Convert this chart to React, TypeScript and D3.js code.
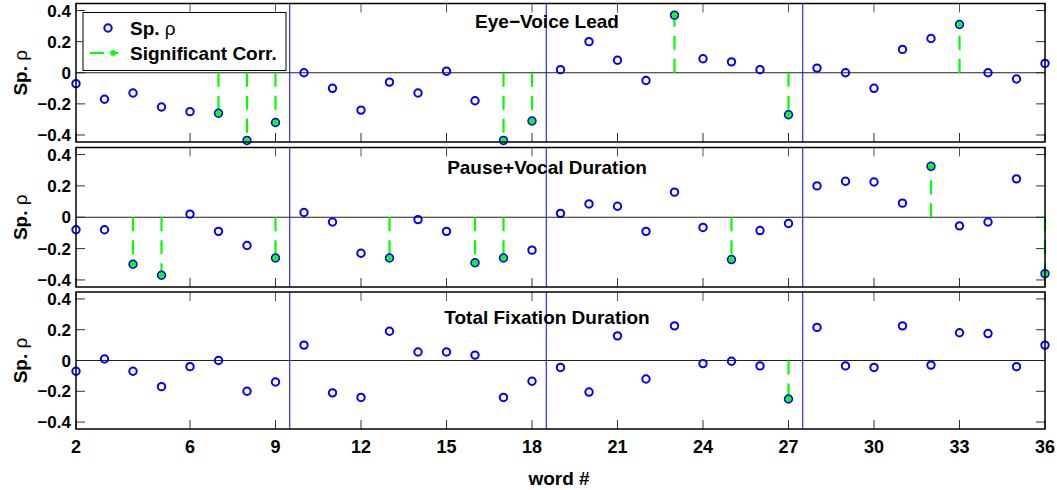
import React, { useEffect, useRef } from 'react';
import * as d3 from 'd3';

// word numbers on the x axis
const words = [2, 3, 4, 5, 6, 7, 8, 9, 10, 11, 12, 13, 14, 15, 16, 17, 18, 19, 20, 21, 22, 23, 24, 25, 26, 27, 28, 29, 30, 31, 32, 33, 34, 35, 36];

const eyeVoice = [-0.07, -0.17, -0.13, -0.22, -0.25, -0.26, -0.435, -0.32, 0.0, -0.1, -0.24, -0.06, -0.13, 0.01, -0.18, -0.435, -0.31, 0.02, 0.2, 0.08, -0.05, 0.37, 0.09, 0.07, 0.02, -0.27, 0.03, 0.0, -0.1, 0.15, 0.22, 0.31, 0.0, -0.04, 0.06];
const eyeVoiceSig = [7, 8, 9, 17, 18, 23, 27, 33];

const pauseVocal = [-0.08, -0.08, -0.3, -0.37, 0.02, -0.09, -0.18, -0.26, 0.03, -0.03, -0.23, -0.26, -0.015, -0.09, -0.29, -0.26, -0.21, 0.025, 0.085, 0.07, -0.09, 0.16, -0.065, -0.27, -0.085, -0.04, 0.2, 0.23, 0.225, 0.09, 0.325, -0.055, -0.03, 0.245, -0.36];
const pauseVocalSig = [4, 5, 9, 13, 16, 17, 25, 32, 36];

const totalFix = [-0.07, 0.01, -0.07, -0.17, -0.04, 0.0, -0.2, -0.14, 0.1, -0.21, -0.24, 0.19, 0.055, 0.055, 0.035, -0.24, -0.135, -0.045, -0.205, 0.16, -0.12, 0.225, -0.02, -0.005, -0.035, -0.25, 0.215, -0.035, -0.045, 0.225, -0.03, 0.18, 0.175, -0.04, 0.1];
const totalFixSig = [27];

const titles = ['Eye\u2212Voice Lead', 'Pause+Vocal Duration', 'Total Fixation Duration'];
const xTicks = [2, 6, 9, 12, 15, 18, 21, 24, 27, 30, 33, 36];
const yTicks = [-0.4, -0.2, 0, 0.2, 0.4];
const dividers = [9.5, 18.5, 27.5];

const W = 1057;
const H = 490;
const FONT = '"Liberation Sans", Arial, Helvetica, sans-serif';
const GREEN = '#00ff00';
const BLUE = '#0000ff';

function Chart() {
  const svgRef = useRef<SVGSVGElement | null>(null);

  useEffect(() => {
    const svg = d3.select(svgRef.current);
    svg.selectAll('*').remove();

    const x = d3.scaleLinear().domain([2, 36]).range([76, 1045]);

    const panels = [
      { values: eyeVoice, sig: eyeVoiceSig, top: 3.5, bottom: 142, titleY: 27.5 },
      { values: pauseVocal, sig: pauseVocalSig, top: 147.5, bottom: 287, titleY: 173.5 },
      { values: totalFix, sig: totalFixSig, top: 292, bottom: 429, titleY: 324 },
    ];

    panels.forEach((p, pi) => {
      const y = d3.scaleLinear().domain([-0.445, 0.445]).range([p.bottom, p.top]);
      const g = svg.append('g');

      // white background
      g.append('rect')
        .attr('x', x(2)).attr('y', p.top)
        .attr('width', x(36) - x(2)).attr('height', p.bottom - p.top)
        .attr('fill', 'white');

      // ticks (inward, both sides)
      xTicks.forEach(t => {
        g.append('line').attr('x1', x(t)).attr('x2', x(t)).attr('y1', p.bottom).attr('y2', p.bottom - 9)
          .attr('stroke', '#333').attr('stroke-width', 1);
        g.append('line').attr('x1', x(t)).attr('x2', x(t)).attr('y1', p.top).attr('y2', p.top + 9)
          .attr('stroke', '#555').attr('stroke-width', 1);
      });
      yTicks.forEach(t => {
        g.append('line').attr('x1', x(2)).attr('x2', x(2) + 9).attr('y1', y(t)).attr('y2', y(t))
          .attr('stroke', '#333').attr('stroke-width', 1);
        g.append('line').attr('x1', x(36)).attr('x2', x(36) - 9).attr('y1', y(t)).attr('y2', y(t))
          .attr('stroke', '#333').attr('stroke-width', 1);
        g.append('text')
          .attr('x', 71).attr('y', y(t)).attr('dy', '0.36em')
          .attr('text-anchor', 'end')
          .style('font-family', FONT).style('font-weight', 'bold').style('font-size', '17px')
          .text(t === 0 ? '0' : d3.format('.1f')(t).replace('-', '\u2212'));
      });

      // zero line
      g.append('line')
        .attr('x1', x(2)).attr('x2', x(36)).attr('y1', y(0)).attr('y2', y(0))
        .attr('stroke', '#222').attr('stroke-width', 1);

      // word group dividers
      dividers.forEach(d => {
        g.append('line')
          .attr('x1', x(d)).attr('x2', x(d)).attr('y1', p.top).attr('y2', p.bottom)
          .attr('stroke', BLUE).attr('stroke-width', 1);
      });

      // title
      g.append('text')
        .attr('x', 547).attr('y', p.titleY)
        .attr('text-anchor', 'middle')
        .style('font-family', FONT).style('font-weight', 'bold').style('font-size', '19px')
        .text(titles[pi]);

      // significant stems
      p.sig.forEach(w => {
        const v = p.values[words.indexOf(w)];
        g.append('line')
          .attr('x1', x(w)).attr('x2', x(w)).attr('y1', y(0)).attr('y2', y(v))
          .attr('stroke', GREEN).attr('stroke-width', 2.2)
          .attr('stroke-dasharray', '14 9');
      });

      // points
      g.selectAll('circle.pt')
        .data(words)
        .enter()
        .append('circle')
        .attr('class', 'pt')
        .attr('cx', d => x(d))
        .attr('cy', (d, i) => y(p.values[i]))
        .attr('r', 3.7)
        .attr('fill', 'none')
        .attr('stroke', BLUE)
        .attr('stroke-width', 2);

      // significant markers
      p.sig.forEach(w => {
        const v = p.values[words.indexOf(w)];
        drawStar(g, x(w), y(v));
      });

      // frame
      g.append('rect')
        .attr('x', x(2)).attr('y', p.top)
        .attr('width', x(36) - x(2)).attr('height', p.bottom - p.top)
        .attr('fill', 'none').attr('stroke', '#000').attr('stroke-width', 1.5);

      // y label
      const yl = g.append('text')
        .attr('transform', `translate(27,${(p.top + p.bottom) / 2}) rotate(-90)`)
        .attr('text-anchor', 'middle')
        .style('font-family', FONT).style('font-size', '19px');
      yl.append('tspan').style('font-weight', 'bold').text('Sp. ');
      yl.append('tspan').style('font-weight', 'normal').text('\u03c1');

      // x tick labels on bottom panel
      if (pi === panels.length - 1) {
        xTicks.forEach(t => {
          g.append('text')
            .attr('x', x(t)).attr('y', p.bottom + 24)
            .attr('text-anchor', 'middle')
            .style('font-family', FONT).style('font-weight', 'bold').style('font-size', '18px')
            .text(t);
        });
      }
    });

    // x label
    svg.append('text')
      .attr('x', 559).attr('y', 485)
      .attr('text-anchor', 'middle')
      .style('font-family', FONT).style('font-weight', 'bold').style('font-size', '19px')
      .text('word #');

    // legend
    const lg = svg.append('g');
    lg.append('rect')
      .attr('x', 83).attr('y', 12.5).attr('width', 203).attr('height', 58)
      .attr('fill', 'white').attr('stroke', '#000').attr('stroke-width', 1);
    lg.append('circle')
      .attr('cx', 108).attr('cy', 28).attr('r', 3.7)
      .attr('fill', 'none').attr('stroke', BLUE).attr('stroke-width', 2);
    const t1 = lg.append('text')
      .attr('x', 130).attr('y', 35)
      .style('font-family', FONT).style('font-size', '19px');
    t1.append('tspan').style('font-weight', 'bold').text('Sp. ');
    t1.append('tspan').style('font-weight', 'normal').text('\u03c1');
    lg.append('line')
      .attr('x1', 90).attr('x2', 118).attr('y1', 53).attr('y2', 53)
      .attr('stroke', GREEN).attr('stroke-width', 2.2)
      .attr('stroke-dasharray', '14 9');
    drawStar(lg, 113, 53);
    lg.append('text')
      .attr('x', 130).attr('y', 60)
      .style('font-family', FONT).style('font-weight', 'bold').style('font-size', '19px')
      .text('Significant Corr.');
  }, []);

  return (
    <svg ref={svgRef} width={W} height={H} style={{ position: 'absolute', left: 0, top: 0, background: 'white' }} />
  );
}

function drawStar(g: any, cx: number, cy: number) {
  const r = 3.2;
  [0, 45, 90, 135].forEach(a => {
    const rad = (a * Math.PI) / 180;
    g.append('line')
      .attr('x1', cx - r * Math.cos(rad)).attr('y1', cy - r * Math.sin(rad))
      .attr('x2', cx + r * Math.cos(rad)).attr('y2', cy + r * Math.sin(rad))
      .attr('stroke', GREEN).attr('stroke-width', 1.6);
  });
}

export default function App() {
  return <Chart />;
}
